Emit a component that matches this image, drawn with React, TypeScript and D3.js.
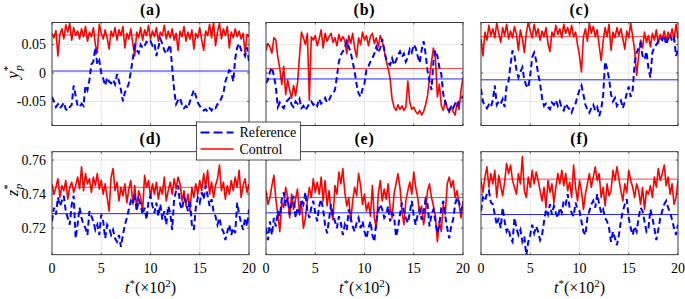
import React from 'react';
import * as d3 from 'd3';

// time axis: t* (x10^2), samples evenly spread over [0, 20]
const T_RANGE = [0, 20];
const X_TICKS = [0, 5, 10, 15, 20];
const Y_TICKS_TOP = [-0.05, 0, 0.05];
const Y_TICK_LABELS_TOP = ['-0.05', '0', '0.05'];
const Y_TICKS_BOT = [0.72, 0.74, 0.76];
const Y_TICK_LABELS_BOT = ['0.72', '0.74', '0.76'];
const TITLES = ['(a)', '(b)', '(c)', '(d)', '(e)', '(f)'];
const LEGEND = ['Reference', 'Control'];

// y_p* in thousandths
const aCtrl = [70,62,75,30,68,78,60,85,72,88,58,80,66,74,60,78,64,82,56,72,64,80,50,36,86,70,60,76,62,42,74,64,80,58,76,66,82,44,70,60,78,52,30,72,62,80,58,76,66,84,60,74,64,80,56,72,66,84,60,74,62,78,58,70,40,74,64,82,56,72,60,76,42,70,62,80,58,40,74,66,86,62,90,48,72,88,60,78,66,82,44,72,62,78,64,74,60,70,36,68,64];
const aRef = [-42,-50,-60,-55,-62,-58,-52,-64,-66,-60,-56,-22,-40,-58,-60,-54,-58,-22,-30,-12,15,20,45,15,22,0,-10,-22,-8,-15,-18,-12,-20,-2,-14,-30,-50,-34,-28,-18,2,25,48,40,35,50,44,48,55,52,56,48,52,30,45,60,52,40,34,42,50,10,-30,-55,-48,-44,-56,-62,-58,-62,-50,-40,-30,-40,-52,-58,-62,-66,-64,-68,-62,-66,-60,-62,-55,-52,-44,-36,-15,-5,5,2,-15,25,45,52,40,38,30,45,20];
const bCtrl = [40,52,46,35,62,58,28,8,-20,12,-38,-12,-30,-44,-22,-40,-18,30,72,62,50,70,-48,64,58,66,48,60,76,44,70,56,64,70,54,62,48,68,56,64,58,34,66,52,70,44,28,62,50,72,58,66,48,64,70,52,62,46,66,56,40,22,8,-10,-46,-60,-66,-56,-64,-58,-66,-60,-14,-52,-64,-60,-68,-72,-66,-74,-68,-56,-40,-8,20,44,26,-42,-20,-58,-66,-48,-62,-70,-58,-68,-74,-52,-64,-30,-8];
const bRef = [-18,-12,2,10,-5,-24,-60,-52,-58,-62,-52,-48,-44,-56,-60,-50,-54,-46,-62,-58,-66,-60,-54,-50,-56,-52,-58,-46,-54,-50,-44,-52,-48,-40,-36,-30,-6,20,32,38,44,56,46,36,20,2,-20,-36,-42,-28,-18,6,12,20,26,34,46,36,44,60,42,24,18,14,26,14,22,32,38,28,34,20,28,42,36,50,44,30,18,40,56,34,4,-14,-30,20,40,30,10,-2,-38,-52,-60,-66,-58,-62,-54,-60,-50,-46,-40];
const cCtrl = [60,30,72,58,84,66,78,62,88,70,54,80,66,86,60,74,62,82,68,40,76,60,36,70,90,74,62,86,66,78,58,74,64,80,52,38,72,64,84,68,78,62,86,70,80,66,84,64,72,50,30,2,64,78,56,88,70,82,64,76,48,22,56,80,64,86,40,72,62,80,66,78,60,42,74,62,88,64,40,-4,30,58,44,72,54,66,46,70,58,76,52,68,60,74,56,72,62,78,58,86,60];
const cRef = [-28,-50,-58,-62,-56,-60,-48,-22,-56,-50,-54,-46,-60,-22,-14,15,40,30,5,-8,2,10,-12,-22,-26,-4,28,36,22,-2,-18,-44,-58,-54,-60,-64,-52,-56,-48,-58,-50,-62,-66,-54,-60,-64,-70,-60,-54,-40,-30,-22,-38,-56,-64,-70,-62,-56,-66,-60,-76,-64,-40,20,8,-10,-38,-50,-44,-58,-52,-48,-62,-50,-36,-24,-42,-30,18,36,44,52,30,24,38,8,-8,36,46,50,56,62,58,66,50,60,68,56,62,30,40];

// z_p* in thousandths
const dCtrl = [746,740,744,749,738,745,742,748,737,744,747,741,745,750,743,756,742,752,746,749,741,750,745,752,743,748,740,746,738,730,750,755,742,747,736,744,739,746,735,743,748,734,745,731,742,738,730,751,744,748,738,746,740,747,737,744,740,750,736,742,747,740,749,743,750,746,736,742,733,740,730,744,738,746,740,748,742,752,744,754,740,747,738,745,749,757,742,747,737,745,740,748,742,750,744,754,738,745,749,741,746];
const dRef = [724,732,728,738,733,736,739,730,726,722,734,739,714,722,732,726,722,720,716,730,727,724,719,722,716,728,724,714,722,720,716,719,714,712,716,709,716,722,726,731,736,734,740,730,737,734,728,732,725,736,739,733,729,735,727,734,725,730,722,733,729,719,737,742,745,734,731,738,735,730,737,722,719,732,738,735,741,737,745,739,733,737,730,727,722,726,720,718,713,718,722,716,720,717,735,728,723,719,726,721,731];
const eCtrl = [742,734,738,745,751,737,728,718,735,732,744,738,726,740,731,737,743,728,735,720,726,736,744,738,749,741,747,740,750,736,748,733,742,730,725,745,740,753,746,755,741,733,738,724,736,744,739,752,745,734,740,730,735,727,745,726,720,740,748,736,743,737,746,732,726,740,746,752,744,730,722,736,742,747,740,753,744,738,728,733,722,730,742,746,738,733,727,712,724,718,734,728,746,750,744,748,738,742,734,726,736];
const eRef = [720,713,724,716,726,721,730,727,737,741,733,738,728,735,739,726,732,729,737,734,741,730,726,732,736,729,724,733,737,731,722,717,725,734,728,724,720,727,723,716,722,719,731,726,721,718,723,726,720,724,718,714,720,724,716,712,724,730,734,731,726,728,733,724,729,727,715,720,728,735,730,726,723,729,736,727,722,728,731,725,729,737,734,721,728,731,724,717,722,732,736,727,720,714,721,725,734,738,735,731,733];
const fCtrl = [748,741,750,756,744,752,746,754,738,751,745,739,747,758,752,757,748,744,740,752,746,762,742,738,750,744,754,746,753,748,742,736,744,732,748,741,746,735,744,752,746,754,745,752,742,747,738,757,744,736,748,742,731,740,746,752,744,750,756,748,752,738,744,733,746,739,742,754,748,756,749,742,736,746,741,754,748,744,738,746,742,734,744,731,742,740,745,738,750,744,755,748,752,757,745,750,740,746,734,738,748];
const fRef = [730,738,736,740,742,735,734,728,722,726,720,732,724,718,720,714,712,726,720,716,719,712,715,704,712,716,722,717,721,718,713,716,724,731,728,734,728,733,729,726,732,729,736,734,740,732,729,727,735,731,730,724,718,716,726,730,734,736,732,740,734,729,731,726,724,720,712,718,714,710,716,724,730,734,737,726,720,716,721,718,726,732,730,724,718,720,731,726,720,713,719,726,730,734,736,732,729,725,720,716,722];

// time-averaged values (mean lines)
const CTRL_MEANS = [0.067, 0.008, 0.064, 0.744, 0.738, 0.7488];
const REF_MEANS = [0.0035, -0.0105, -0.012, 0.7285, 0.729, 0.728];

const W = 685;
const H = 299;
const COLS = [52, 266, 481];
const PW = 197;
const ROWS = [22.5, 151.7];
const PH = 103;
const Y_DOM_TOP = [-0.0925, 0.089];
const Y_DOM_BOT = [0.7044, 0.7649];
const RED = '#ff0000';
const BLUE = '#0000ff';
const AXC = '#262626';
const GRID = '#e3e3e3';
const FONT = "'Liberation Serif', 'DejaVu Serif', serif";
const fontStyle = { fontFamily: FONT };

const CTRLS = [aCtrl, bCtrl, cCtrl, dCtrl, eCtrl, fCtrl];
const REFS = [aRef, bRef, cRef, dRef, eRef, fRef];

function Panel({ idx }: { idx: number }) {
  const row = Math.floor(idx / 3);
  const col = idx % 3;
  const x0 = COLS[col];
  const y0 = ROWS[row];
  const x = d3.scaleLinear().domain(T_RANGE).range([x0, x0 + PW]);
  const y = d3.scaleLinear().domain(row === 0 ? Y_DOM_TOP : Y_DOM_BOT).range([y0 + PH, y0]);
  const yTicks = row === 0 ? Y_TICKS_TOP : Y_TICKS_BOT;
  const yLabels = row === 0 ? Y_TICK_LABELS_TOP : Y_TICK_LABELS_BOT;
  const ctrl = CTRLS[idx].map((v) => v / 1000);
  const ref = REFS[idx].map((v) => v / 1000);
  const mk = (arr: number[]) =>
    d3
      .line<number>()
      .x((_, i) => x((i * (T_RANGE[1] - T_RANGE[0])) / (arr.length - 1)))
      .y((d) => y(d))(arr) || '';
  const clipId = `clip${idx}`;
  const x1 = x0 + PW;
  const y1 = y0 + PH;
  return (
    <g>
      <defs>
        <clipPath id={clipId}>
          <rect x={x0} y={y0} width={PW} height={PH} />
        </clipPath>
      </defs>
      <rect x={x0} y={y0} width={PW} height={PH} fill="#fff" />
      {X_TICKS.slice(1, -1).map((t) => (
        <line key={'gx' + t} x1={x(t)} x2={x(t)} y1={y0} y2={y1} stroke={GRID} strokeWidth={0.9} />
      ))}
      {yTicks.map((t) => (
        <line key={'gy' + t} x1={x0} x2={x1} y1={y(t)} y2={y(t)} stroke={GRID} strokeWidth={0.9} />
      ))}
      <g clipPath={`url(#${clipId})`}>
        <path d={mk(ctrl)} fill="none" stroke={RED} strokeWidth={1.6} strokeLinejoin="round" />
        <path d={mk(ref)} fill="none" stroke={BLUE} strokeWidth={2} strokeDasharray="6,3.5" />
        <line x1={x0} x2={x1} y1={y(CTRL_MEANS[idx])} y2={y(CTRL_MEANS[idx])} stroke={RED} strokeWidth={1} opacity={0.75} />
        <line x1={x0} x2={x1} y1={y(REF_MEANS[idx])} y2={y(REF_MEANS[idx])} stroke={BLUE} strokeWidth={1} opacity={0.85} />
      </g>
      {X_TICKS.map((t) => (
        <g key={'tx' + t}>
          <line x1={x(t)} x2={x(t)} y1={y1} y2={y1 - 2} stroke={AXC} strokeWidth={0.7} />
          <line x1={x(t)} x2={x(t)} y1={y0} y2={y0 + 2} stroke={AXC} strokeWidth={0.7} />
        </g>
      ))}
      {yTicks.map((t) => (
        <g key={'ty' + t}>
          <line x1={x0} x2={x0 + 2} y1={y(t)} y2={y(t)} stroke={AXC} strokeWidth={0.7} />
          <line x1={x1} x2={x1 - 2} y1={y(t)} y2={y(t)} stroke={AXC} strokeWidth={0.7} />
        </g>
      ))}
      <rect x={x0} y={y0} width={PW} height={PH} fill="none" stroke={AXC} strokeWidth={0.9} />
      {row === 1 &&
        X_TICKS.map((t) => (
          <text key={'lx' + t} x={x(t)} y={y1 + 18} textAnchor="middle" style={fontStyle} fontSize={14} fill="#000">
            {t}
          </text>
        ))}
      {col === 0 &&
        yTicks.map((t, i) => (
          <text key={'ly' + t} x={x0 - 6} y={y(t) + 4.5} textAnchor="end" style={fontStyle} fontSize={14} fill="#000">
            {yLabels[i]}
          </text>
        ))}
      <text x={x0 + PW / 2} y={y0 - 7.5} textAnchor="middle" style={fontStyle} fontSize={16} fontWeight="bold" fill="#000" letterSpacing={0.8}>
        {TITLES[idx]}
      </text>
      {row === 1 && (
        <text x={x0 + PW / 2} y={293} textAnchor="middle" style={fontStyle} fontSize={16} fill="#000">
          <tspan fontStyle="italic">t</tspan>
          <tspan dy={-6} fontSize={11}>*</tspan>
          <tspan dy={6}>(×10</tspan>
          <tspan dy={-6} fontSize={11}>2</tspan>
          <tspan dy={6}>)</tspan>
        </text>
      )}
    </g>
  );
}

function YLabel({ cx, cy, letter }: { cx: number; cy: number; letter: string }) {
  return (
    <text transform={`translate(${cx},${cy}) rotate(-90)`} textAnchor="middle" style={fontStyle} fontSize={17} fill="#000">
      <tspan fontStyle="italic">{letter}</tspan>
      <tspan dy={-7} fontSize={11}>*</tspan>
      <tspan dx={-5} dy={11} fontSize={11} fontStyle="italic">p</tspan>
    </text>
  );
}

export default function App() {
  const lx = 196.5;
  const ly = 122;
  return (
    <svg width={W} height={H} style={{ position: 'absolute', left: 0, top: 0, background: '#fff' }}>
      <rect x={0} y={0} width={W} height={H} fill="#fff" />
      {TITLES.map((_, i) => (
        <Panel key={i} idx={i} />
      ))}
      <YLabel cx={18} cy={72} letter="y" />
      <YLabel cx={18} cy={190} letter="z" />
      <g>
        <rect x={lx} y={ly} width={104} height={38} fill="#fff" stroke={AXC} strokeWidth={0.8} />
        <line x1={lx + 4} x2={lx + 37} y1={ly + 10.5} y2={ly + 10.5} stroke={BLUE} strokeWidth={2} strokeDasharray="9,4" />
        <line x1={lx + 4} x2={lx + 37} y1={ly + 27} y2={ly + 27} stroke={RED} strokeWidth={1.6} />
        <text x={lx + 43} y={ly + 15} style={fontStyle} fontSize={14} fill="#000">
          {LEGEND[0]}
        </text>
        <text x={lx + 43} y={ly + 31.5} style={fontStyle} fontSize={14} fill="#000">
          {LEGEND[1]}
        </text>
      </g>
    </svg>
  );
}
